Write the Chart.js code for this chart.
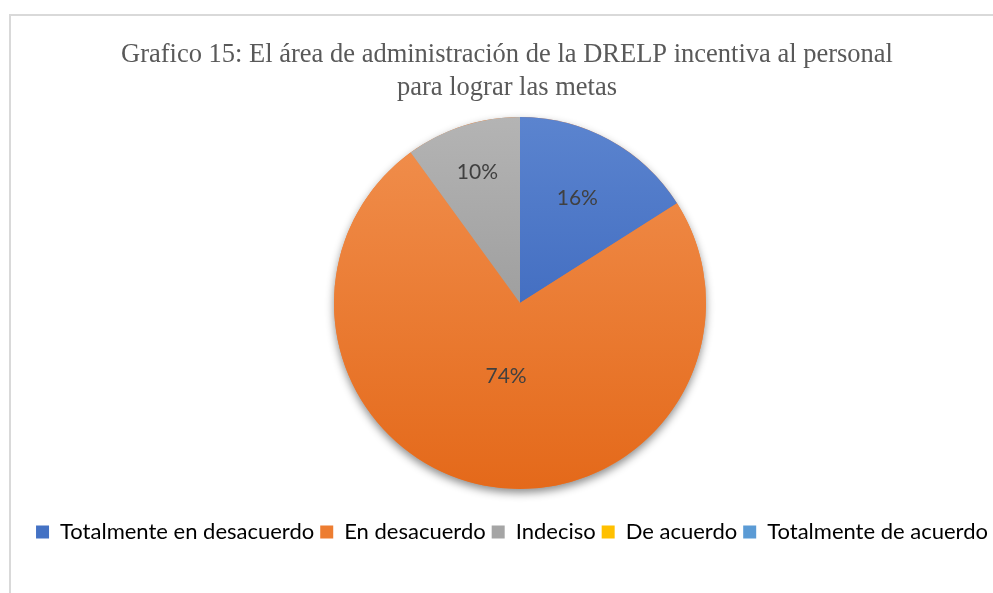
<!DOCTYPE html>
<html>
<head>
<meta charset="utf-8">
<script src="https://cdn.jsdelivr.net/npm/chart.js@4"></script>
<style>
  html, body { margin: 0; padding: 0; background: #fff; overflow: hidden; }
  #frame { position: absolute; left: 9px; top: 14px; width: 1200px; height: 800px;
           border-top: 2px solid #d9d9d9; border-left: 2px solid #d9d9d9; }
  #wrap { position: absolute; left: 0; top: 0; width: 993px; height: 593px; }
</style>
</head>
<body>
<div id="frame"></div>
<div id="wrap"><canvas id="pieChart"></canvas></div>
<script>
// datos del gráfico
const titleLines = ['Grafico 15: El área de administración de la DRELP incentiva al personal', 'para lograr las metas'];
const categories = ['Totalmente en desacuerdo', 'En desacuerdo', 'Indeciso', 'De acuerdo', 'Totalmente de acuerdo'];
const values = [16, 74, 10, 0, 0];

// colores (degradado de arriba hacia abajo, como en Excel)
const colorTop = ['#5b84cf', '#f1904f', '#b4b4b4', '#ffcd33', '#71aadd'];
const colorBottom = ['#2d5ab5', '#e4691a', '#8a8a8a', '#e6ac00', '#4a89c8'];
const colorSolid = ['#4472c4', '#ed7d31', '#a5a5a5', '#ffc000', '#5b9bd5'];
// distancia de cada etiqueta al centro (fracción del radio)
const labelRadius = [0.64, 0.40, 0.74, 0.6, 0.6];

const sansFont = 'Lato, "Open Sans", sans-serif';

function sliceFill(context) {
    const i = context.dataIndex;
    const area = context.chart.chartArea;
    if (!area) return colorSolid[i];
    const g = context.chart.ctx.createLinearGradient(0, area.top, 0, area.bottom);
    g.addColorStop(0, colorTop[i]);
    g.addColorStop(1, colorBottom[i]);
    return g;
}

// sombra suave debajo del pastel
const pieShadow = {
    id: 'pieShadow',
    beforeDatasetsDraw(chart) {
        const arc = chart.getDatasetMeta(0).data[0];
        if (!arc) return;
        const ctx = chart.ctx;
        ctx.save();
        ctx.shadowColor = 'rgba(0,0,0,0.45)';
        ctx.shadowBlur = 9;
        ctx.shadowOffsetY = 4;
        ctx.fillStyle = '#ed7d31';
        ctx.beginPath();
        ctx.arc(arc.x, arc.y, arc.outerRadius, 0, Math.PI * 2);
        ctx.fill();
        ctx.restore();
    }
};

// etiquetas de porcentaje dentro de cada porción
const sliceLabels = {
    id: 'sliceLabels',
    afterDatasetsDraw(chart) {
        const ctx = chart.ctx;
        const total = values.reduce((a, b) => a + b, 0);
        ctx.save();
        ctx.font = '21px ' + sansFont;
        ctx.fillStyle = '#404040';
        ctx.textAlign = 'center';
        ctx.textBaseline = 'middle';
        chart.getDatasetMeta(0).data.forEach((arc, i) => {
            if (!values[i]) return;
            const mid = (arc.startAngle + arc.endAngle) / 2;
            const r = arc.outerRadius * labelRadius[i];
            const x = arc.x + Math.cos(mid) * r;
            const y = arc.y + Math.sin(mid) * r;
            ctx.fillText(Math.round(values[i] / total * 100) + '%', x, y);
        });
        ctx.restore();
    }
};

// desplazar área, título y leyenda para ubicarlos como en el original
const boxShift = {
    id: 'boxShift',
    afterLayout(chart) {
        chart.chartArea.left += 23.5;
        chart.chartArea.right += 23.5;
        chart.titleBlock.left += 10.5;
        chart.titleBlock.right += 10.5;
        chart.legend.left += 15.5;
        chart.legend.right += 15.5;
        chart.legend.top += 26;
        chart.legend.bottom += 26;
    }
};

new Chart(document.getElementById('pieChart'), {
    type: 'pie',
    data: {
        labels: categories,
        datasets: [{
            data: values,
            backgroundColor: sliceFill,
            borderWidth: 0
        }]
    },
    options: {
        responsive: true,
        maintainAspectRatio: false,
        animation: false,
        layout: { padding: { left: 0, right: 0, top: 18, bottom: 66 } },
        plugins: {
            title: {
                display: true,
                text: titleLines,
                color: '#595959',
                font: { family: '"Liberation Serif", "Times New Roman", serif', size: 26.5, weight: 'normal', lineHeight: 1.245 },
                padding: { top: 21, bottom: 12 }
            },
            legend: {
                position: 'bottom',
                labels: {
                    color: '#595959',
                    font: { family: sansFont, size: 22 },
                    boxWidth: 13,
                    boxHeight: 13,
                    padding: 6,
                    generateLabels(chart) {
                        return categories.map((c, i) => ({
                            text: c,
                            fillStyle: colorSolid[i],
                            strokeStyle: colorSolid[i],
                            lineWidth: 0,
                            hidden: false,
                            index: i
                        }));
                    }
                }
            },
            tooltip: { enabled: false }
        }
    },
    plugins: [pieShadow, sliceLabels, boxShift]
});
</script>
</body>
</html>
